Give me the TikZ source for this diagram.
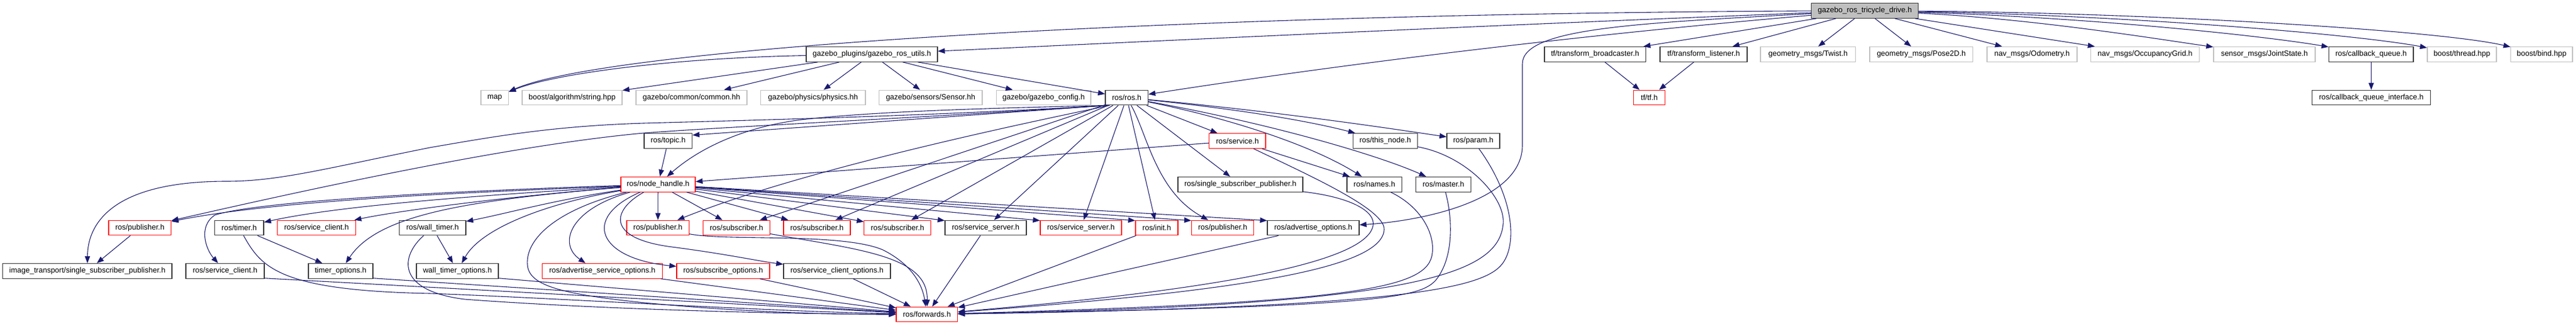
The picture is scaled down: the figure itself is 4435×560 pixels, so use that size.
\documentclass[tikz,border=0pt]{standalone}
\usepackage{fontspec}
\setmainfont{Liberation Sans}
\usetikzlibrary{arrows.meta}
\definecolor{edgec}{HTML}{191970}
\definecolor{grayc}{HTML}{BFBFBF}
\definecolor{boxk}{HTML}{333333}
\definecolor{boxr}{HTML}{FF0000}
\tikzset{
  base/.style={rectangle, minimum height=25.7pt, inner xsep=2pt, inner ysep=0pt,
    font=\fontsize{13}{15}\selectfont, line width=1.2pt, fill=white},
  bk/.style={base, draw=boxk},
  rd/.style={base, draw=boxr},
  gy/.style={base, draw=grayc},
  topnode/.style={base, draw=boxk, fill=grayc},
  conn/.style={draw=edgec, line width=1.1pt, -{Triangle[length=12pt,width=9pt]}},
}
\begin{document}
\begin{tikzpicture}[x=1pt,y=-1pt]
\useasboundingbox[fill=white] (0,0) rectangle (4435,560);
% row 0
\node[topnode, minimum width=184pt] (T) at (3210.6,18.4) {gazebo\_ros\_tricycle\_drive.h};
% row 1
\node[bk, minimum width=226pt] (utils) at (1501,93.4) {gazebo\_plugins/gazebo\_ros\_utils.h};
\node[bk, minimum width=174.5pt] (tfb) at (2746.2,93.4) {tf/transform\_broadcaster.h};
\node[bk, minimum width=150pt] (tfl) at (2933,93.4) {tf/transform\_listener.h};
\node[gy, minimum width=163.5pt] (twist) at (3112.8,93.4) {geometry\_msgs/Twist.h};
\node[gy, minimum width=177.5pt] (pose) at (3307.8,93.4) {geometry\_msgs/Pose2D.h};
\node[gy, minimum width=155pt] (odom) at (3498.5,93.4) {nav\_msgs/Odometry.h};
\node[gy, minimum width=187pt] (occ) at (3693,93.4) {nav\_msgs/OccupancyGrid.h};
\node[gy, minimum width=175pt] (joint) at (3898.5,93.4) {sensor\_msgs/JointState.h};
\node[bk, minimum width=145.6pt] (cbq) at (4082.2,93.4) {ros/callback\_queue.h};
\node[gy, minimum width=119pt] (thread) at (4238.5,93.4) {boost/thread.hpp};
\node[gy, minimum width=106.4pt] (bind) at (4375.8,93.4) {boost/bind.hpp};
% row 2
\node[gy, minimum width=47.4pt] (map) at (851.7,168) {map};
\node[gy, minimum width=172pt] (bstr) at (985,168) {boost/algorithm/string.hpp};
\node[gy, minimum width=191pt] (common) at (1190.5,168) {gazebo/common/common.hh};
\node[gy, minimum width=180.4pt] (physics) at (1399.8,168) {gazebo/physics/physics.hh};
\node[gy, minimum width=177.5pt] (sensor) at (1602.2,168) {gazebo/sensors/Sensor.hh};
\node[gy, minimum width=162.5pt] (config) at (1796.8,168) {gazebo/gazebo\_config.h};
\node[bk, minimum width=73.5pt] (ros) at (1939.8,168) {ros/ros.h};
\node[rd, minimum width=53.8pt] (tf) at (2839.6,168) {tf/tf.h};
\node[bk, minimum width=203.5pt] (cbqi) at (4082.5,168) {ros/callback\_queue\_interface.h};
% row 3
\node[bk, minimum width=82.6pt] (topic) at (1150.3,242.5) {ros/topic.h};
\node[rd, minimum width=97.3pt] (service) at (2130.4,242.5) {ros/service.h};
\node[bk, minimum width=111pt] (thisnode) at (2385,242.5) {ros/this\_node.h};
\node[bk, minimum width=91pt] (param) at (2536.5,242.5) {ros/param.h};
% row 4
\node[rd, minimum width=128pt] (nh) at (1133,317.3) {ros/node\_handle.h};
\node[bk, minimum width=215pt] (ssp) at (2135.5,317.3) {ros/single\_subscriber\_publisher.h};
\node[bk, minimum width=94.5pt] (names) at (2366.2,317.3) {ros/names.h};
\node[bk, minimum width=94.8pt] (master) at (2485,317.3) {ros/master.h};
% row 5
\node[rd, minimum width=107.5pt] (pub1) at (240.8,392) {ros/publisher.h};
\node[bk, minimum width=84.5pt] (timer) at (411.8,392) {ros/timer.h};
\node[rd, minimum width=135pt] (sc1) at (545,392) {ros/service\_client.h};
\node[bk, minimum width=114.4pt] (wtimer) at (744.8,392) {ros/wall\_timer.h};
\node[rd, minimum width=107.4pt] (pub2) at (1132.7,392) {ros/publisher.h};
\node[rd, minimum width=115pt] (sub1) at (1268,392) {ros/subscriber.h};
\node[rd, minimum width=115pt] (sub2) at (1406.4,392) {ros/subscriber.h};
\node[rd, minimum width=115pt] (sub3) at (1545.2,392) {ros/subscriber.h};
\node[bk, minimum width=140pt] (ss1) at (1697,392) {ros/service\_server.h};
\node[rd, minimum width=140pt] (ss2) at (1861,392) {ros/service\_server.h};
\node[rd, minimum width=73pt] (init) at (1991.5,392) {ros/init.h};
\node[rd, minimum width=107pt] (pub3) at (2105,392) {ros/publisher.h};
\node[bk, minimum width=158pt] (adv) at (2261,392) {ros/advertise\_options.h};
% row 6
\node[bk, minimum width=291.3pt] (itp) at (150.4,466.3) {image\_transport/single\_subscriber\_publisher.h};
\node[bk, minimum width=135pt] (sc2) at (387.5,466.3) {ros/service\_client.h};
\node[bk, minimum width=111pt] (topt) at (586.5,466.3) {timer\_options.h};
\node[bk, minimum width=141pt] (wtopt) at (787.5,466.3) {wall\_timer\_options.h};
\node[rd, minimum width=207pt] (aso) at (1037,466.3) {ros/advertise\_service\_options.h};
\node[rd, minimum width=160pt] (subo) at (1245,466.3) {ros/subscribe\_options.h};
\node[bk, minimum width=184pt] (sco) at (1441,466.3) {ros/service\_client\_options.h};
% row 7
\node[rd, minimum width=105.5pt] (fwd) at (1595.8,541) {ros/forwards.h};

% ---- edges from the top node
\draw[conn] (T) .. controls (2000,24) and (1050,82) .. (map);
\draw[conn] (T) .. controls (2600,42) and (2000,70) .. (utils);
\draw[conn] (T) .. controls (2700,62) and (2300,112) .. (ros);
\draw[conn] (T) .. controls (2820,40) and (2621,48) .. (2621,110) -- (2621,250) .. controls (2621,345) and (2450,380) .. (adv);
\draw[conn] (T) -- (tfb);
\draw[conn] (T) -- (tfl);
\draw[conn] (T) -- (twist);
\draw[conn] (T) -- (pose);
\draw[conn] (T) -- (odom);
\draw[conn] (T) -- (occ);
\draw[conn] (T) .. controls (3500,32) and (3720,68) .. (joint);
\draw[conn] (T) .. controls (3600,30) and (3900,62) .. (cbq);
\draw[conn] (T) .. controls (3650,26) and (4050,58) .. (thread);
\draw[conn] (T) .. controls (3700,22) and (4200,52) .. (bind);
\draw[conn] (cbq) -- (cbqi);
\draw[conn] (tfb) -- (tf);
\draw[conn] (tfl) -- (tf);

% ---- gazebo_ros_utils
\draw[conn] (utils) .. controls (1150,100) and (950,128) .. (map);
\draw[conn] (utils) -- (bstr);
\draw[conn] (utils) -- (common);
\draw[conn] (utils) -- (physics);
\draw[conn] (utils) -- (sensor);
\draw[conn] (utils) -- (config);
\draw[conn] (utils) -- (ros);

% ---- ros/ros.h
\draw[conn] ([xshift=3pt]ros.south west) .. controls (1700,186) and (1500,192) .. (1380,206) .. controls (1290,217) and (1210,250) .. (nh);
\draw[conn] ([xshift=3pt]ros.south west) -- ([yshift=10pt]topic.east);
\draw[conn] ([xshift=3pt]ros.south west) .. controls (1600,200) and (1250,208) .. (1108,212) .. controls (950,217) and (850,235) .. (740,254) .. controls (560,290) and (480,312) .. (390,312) .. controls (200,312) and (151,380) .. (itp);
\draw[conn] ([xshift=3pt]ros.south west) .. controls (1600,202) and (1250,218) .. (1108,229) .. controls (900,248) and (600,310) .. (pub1);
\draw[conn] ([xshift=8pt]ros.south west) .. controls (1650,235) and (1350,305) .. (pub2);
\draw[conn] (ros) -- (sub1);
\draw[conn] (ros) -- (sub2);
\draw[conn] (ros) -- (sub3);
\draw[conn] (ros) -- (ss1);
\draw[conn] (ros) -- (ss2);
\draw[conn] (ros) -- (init);
\draw[conn] (ros) .. controls (1975,230) and (1990,330) .. (pub3);
\draw[conn] (ros) -- (ssp);
\draw[conn] (ros) -- (service);
\draw[conn] (ros) .. controls (2150,190) and (2260,210) .. (thisnode);
\draw[conn] (ros) .. controls (2200,192) and (2400,222) .. (param);
\draw[conn] (ros) .. controls (2100,200) and (2250,245) .. (names);
\draw[conn] (ros) .. controls (2200,215) and (2380,270) .. (master);

% ---- service, ssp, names, master, this_node, param
\draw[conn] (service) -- (names);
\draw[conn] (service) -- (nh);
\draw[conn] (service) .. controls (2250,300) and (2385,360) .. (2383,395) .. controls (2380,460) and (2150,500) .. (fwd);
\draw[conn] (ssp) .. controls (2330,340) and (2368,365) .. (2364,388) .. controls (2355,440) and (2180,492) .. (fwd);
\draw[conn] (names) .. controls (2445,355) and (2470,400) .. (2466,435) .. controls (2460,495) and (2350,520) .. (fwd);
\draw[conn] (master) .. controls (2502,380) and (2502,445) .. (2472,482) .. controls (2445,512) and (2380,528) .. (fwd);
\draw[conn] (thisnode) .. controls (2525,268) and (2592,340) .. (2588,385) .. controls (2580,470) and (2450,525) .. (fwd);
\draw[conn] (param) .. controls (2600,330) and (2612,405) .. (2592,445) .. controls (2570,490) and (2480,528) .. (fwd);
\draw[conn] (adv) -- (fwd);
\draw[conn] (init) -- (fwd);
\draw[conn] (ss1) -- (fwd);

% ---- ros/node_handle.h
\draw[conn] (topic) -- (nh);
\draw[conn] (nh) .. controls (900,328) and (500,340) .. (pub1);
\draw[conn] (nh) .. controls (900,332) and (600,350) .. (timer);
\draw[conn] (nh) .. controls (900,336) and (700,360) .. (sc1);
\draw[conn] (nh) .. controls (800,328) and (450,345) .. (370,370) .. controls (340,390) and (355,430) .. (sc2);
\draw[conn] (nh) .. controls (800,345) and (650,370) .. (topt);
\draw[conn] (nh) .. controls (950,345) and (870,368) .. (wtimer);
\draw[conn] (nh) .. controls (950,348) and (830,390) .. (wtopt);
\draw[conn] (nh) .. controls (980,360) and (960,420) .. ([xshift=-29pt]aso.north);
\draw[conn] (nh) .. controls (1000,375) and (1030,445) .. (subo);
\draw[conn] (nh) .. controls (1055,360) and (1040,410) .. (1157,425) .. controls (1250,437) and (1310,450) .. (sco);
\draw[conn] (nh) -- (pub2);
\draw[conn] (nh) -- (sub1);
\draw[conn] (nh) -- (sub2);
\draw[conn] (nh) -- (sub3);
\draw[conn] (nh) -- ([yshift=-1pt]ss1.north west);
\draw[conn] (nh) -- ([yshift=-1pt]ss2.north west);
\draw[conn] (nh) -- ([yshift=-1pt]init.north west);
\draw[conn] (nh) -- ([yshift=-1pt]pub3.north west);
\draw[conn] (nh) -- ([yshift=-1pt]adv.north west);
\draw[conn] (nh) .. controls (960,360) and (905,410) .. (908,455) .. controls (910,490) and (960,505) .. (1100,520) .. controls (1250,535) and (1400,541) .. (fwd);

% ---- lower rows
\draw[conn] (pub1) -- (itp);
\draw[conn] (timer) -- (topt);
\draw[conn] (timer) .. controls (450,460) and (480,500) .. (740,505) .. controls (940,512) and (1300,535) .. (fwd);
\draw[conn] ([yshift=1pt]sc2.south east) -- (fwd);
\draw[conn] ([yshift=1pt]topt.south east) -- (fwd);
\draw[conn] (wtimer) .. controls (690,440) and (680,500) .. (800,515) .. controls (1000,530) and (1300,540) .. (fwd);
\draw[conn] (wtimer) -- (wtopt);
\draw[conn] ([yshift=1pt]wtopt.south east) -- (fwd);
\draw[conn] (aso) -- (fwd);
\draw[conn] (subo) -- (fwd);
\draw[conn] (sco) -- (fwd);
\draw[conn] (pub2) .. controls (1250,415) and (1450,400) .. (1520,430) .. controls (1570,455) and (1588,490) .. (fwd);
\draw[conn] (sub1) .. controls (1480,430) and (1598,440) .. (fwd);
\end{tikzpicture}
\end{document}
